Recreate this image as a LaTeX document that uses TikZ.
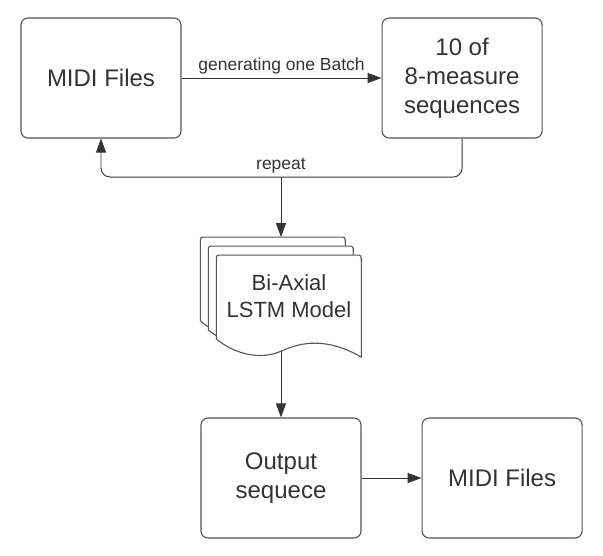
\documentclass[tikz,border=0pt]{standalone}
\usepackage{fontspec}
\setmainfont{Liberation Sans}
\usetikzlibrary{positioning, arrows.meta, calc}
\definecolor{inkgray}{HTML}{333333}
\definecolor{edgegray}{HTML}{555555}
\tikzstyle{arrow} = [line width=0.9pt, draw=inkgray, -{Triangle[length=14pt,width=10pt]}]
\tikzstyle{block} = [rectangle, rounded corners=7pt, minimum width=160pt, minimum height=120pt, text centered, align=center, draw=edgegray, line width=1.1pt, text=inkgray, font=\fontsize{24}{29}\selectfont]
\tikzstyle{page} = [draw=edgegray, line width=1.1pt, fill=white]
\tikzstyle{tag} = [text=inkgray, font=\fontsize{17.5}{21}\selectfont]

\begin{document}
\begin{tikzpicture}[x=1pt, y=-1pt]
        \useasboundingbox (0,0) rectangle (603,555);
        \node (midi) [block] at (101,78) {MIDI Files};
        \node (seqs) [block, right=200pt of midi] {10 of\\8-measure\\sequences};
        \node (output) [block] at (281,478) {Output\\sequece};
        \node (midiout) [block, right=60pt of output] {MIDI Files};
        \node (model) [minimum width=161pt, minimum height=114pt, above=66pt of output] {};

        % stack of pages, back one first
        \foreach \k in {0,1,2}{
            \draw [page, shift={($(model.north west)+(8*\k,9*\k)$)}]
                (0,84) -- (0,6) .. controls (0,0) .. (6,0) -- (139,0) .. controls (145,0) .. (145,6) -- (145,102)
                .. controls (110,82) and (85,87) .. (65,96) .. controls (45,105) and (20,100) .. (0,84) -- cycle;
        }
        \node (modeltext) [align=center, text=inkgray, font=\fontsize{22}{27}\selectfont] at ($(model.center)+(8,2)$) {Bi-Axial\\LSTM Model};

        \coordinate (loop) at ($(model.north)+(0,-60)$);

        \draw [arrow] (midi) -- node[tag, above]{generating one Batch} (seqs);
        \draw [arrow, rounded corners=9pt] (seqs.south) |- (loop) -| (midi.south);
        \node (replabel) [tag, above] at (loop) {repeat};
        \draw [arrow] (loop) -- (model.north);
        \draw [arrow] (model.south) -- (output.north);
        \draw [arrow] (output) -- (midiout);
\end{tikzpicture}
\end{document}
